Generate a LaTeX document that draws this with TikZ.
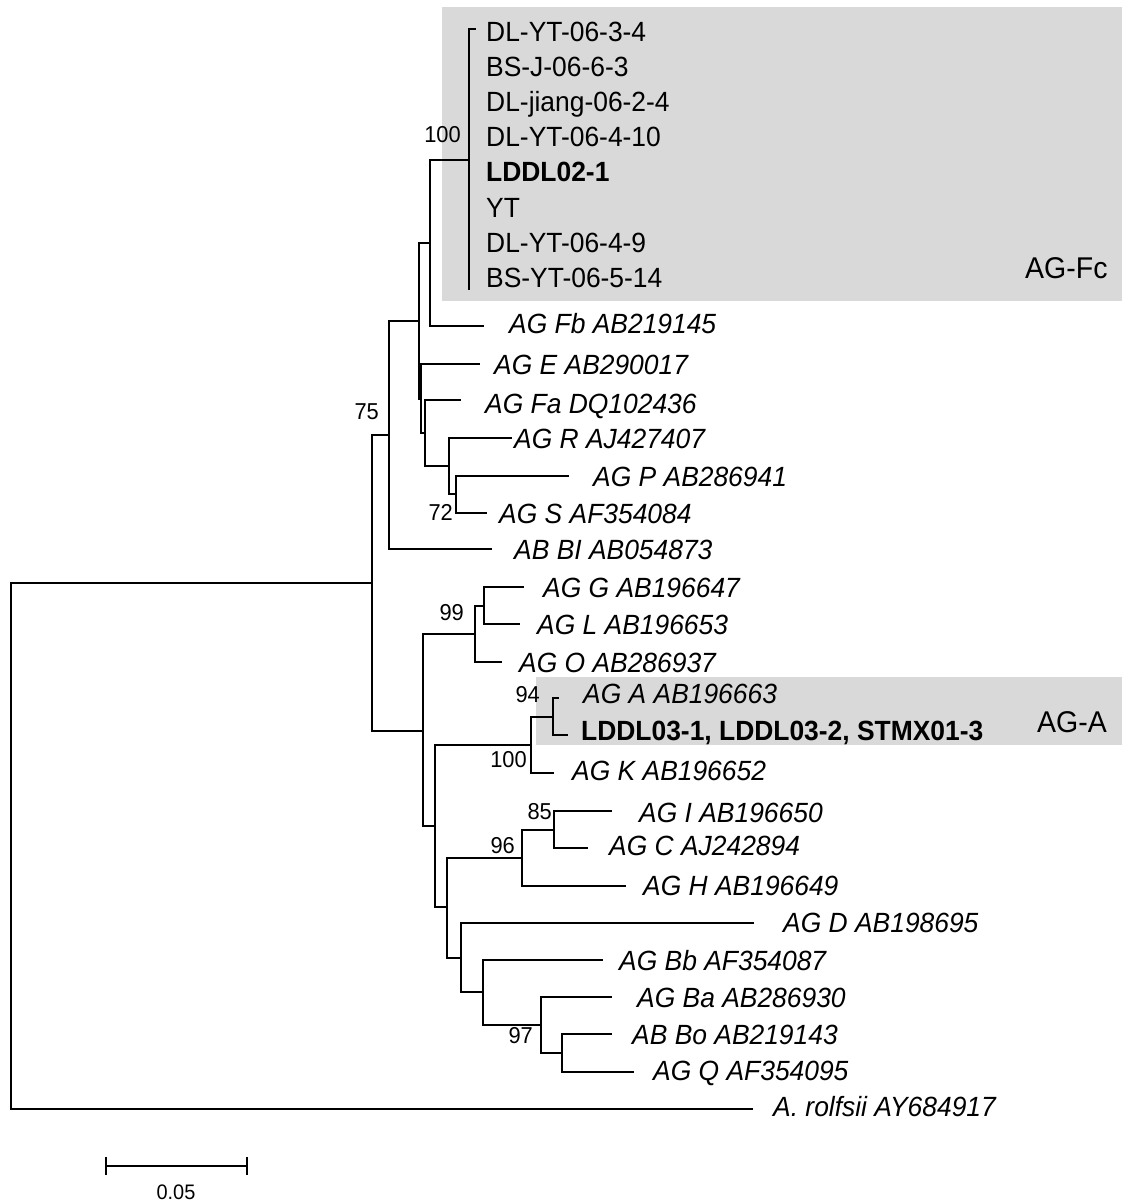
\documentclass[tikz,border=0pt]{standalone}
\usepackage{fontspec}
\setmainfont{Liberation Sans}[FakeStretch=0.95]
\definecolor{cladegray}{RGB}{217,217,217}
\tikzset{
  br/.style={line width=2pt, line join=miter},
  lab/.style={anchor=base west, inner sep=0pt, font=\fontsize{27.8}{30}\selectfont\itshape},
  labup/.style={anchor=base west, inner sep=0pt, font=\fontsize{27.8}{30}\selectfont},
  labbf/.style={anchor=base west, inner sep=0pt, font=\fontsize{27.8}{30}\selectfont\bfseries},
  sup/.style={anchor=east, inner sep=0pt, font=\fontsize{23}{26}\selectfont},
  cladelab/.style={anchor=base west, inner sep=0pt, font=\fontsize{30}{32}\selectfont},
  cladebox/.style={fill=cladegray, draw=none}
}
\begin{document}
\begin{tikzpicture}[x=1pt,y=-1pt]
\useasboundingbox (0,0) rectangle (1123,1202);
% clade boxes
\fill[cladebox] (442,7) rectangle (1122,301);
\fill[cladebox] (536,677) rectangle (1122,745);
% internal nodes
\coordinate (R0) at (11,846);
\coordinate (N1) at (372,583);
\coordinate (N2) at (389,435);
\coordinate (N3) at (419,321);
\coordinate (N4) at (430,243);
\coordinate (N6) at (469,160);
\coordinate (N5) at (421,399);
\coordinate (N7) at (425,433);
\coordinate (N8) at (449,466);
\coordinate (N9) at (456,494);
\coordinate (N10) at (423,731);
\coordinate (N11) at (475,634);
\coordinate (N13) at (484,606);
\coordinate (N12) at (435,826);
\coordinate (N14) at (531,745);
\coordinate (N16) at (553,717);
\coordinate (N15) at (447,907);
\coordinate (N17) at (522,858);
\coordinate (N19) at (554,830);
\coordinate (N18) at (461,958);
\coordinate (N20) at (483,992);
\coordinate (N21) at (541,1025);
\coordinate (N22) at (562,1053);
% tips
\coordinate (tRolf) at (753,1109);
\coordinate (tFc1) at (476,29);
\coordinate (tFc8) at (469,290);
\coordinate (tFb) at (484,326);
\coordinate (tE) at (480,364);
\coordinate (tFa) at (461,400);
\coordinate (tR) at (512,438);
\coordinate (tP) at (569,476);
\coordinate (tS) at (487,513);
\coordinate (tBI) at (492,549);
\coordinate (tG) at (524,587);
\coordinate (tL) at (520,624);
\coordinate (tO) at (502,662);
\coordinate (tA) at (559,698);
\coordinate (tLD3) at (568,735);
\coordinate (tK) at (554,773);
\coordinate (tI) at (612,811);
\coordinate (tC) at (588,848);
\coordinate (tH) at (626,886);
\coordinate (tD) at (754,923);
\coordinate (tBb) at (603,960);
\coordinate (tBa) at (612,997);
\coordinate (tBo) at (612,1034);
\coordinate (tQ) at (634,1072);
% branches
\draw[br] (R0) |- (N1);  \draw[br] (R0) |- (tRolf);
\draw[br] (N1) |- (N2);  \draw[br] (N1) |- (N10);
\draw[br] (N2) |- (N3);  \draw[br] (N2) |- (tBI);
\draw[br] (N3) |- (N4);  \draw[br] (N3) |- (N5);
\draw[br] (N4) |- (N6);  \draw[br] (N4) |- (tFb);
\draw[br] (N6) |- (tFc1); \draw[br] (N6) |- (tFc8);
\draw[br] (N5) |- (tE);  \draw[br] (N5) |- (N7);
\draw[br] (N7) |- (tFa); \draw[br] (N7) |- (N8);
\draw[br] (N8) |- (tR);  \draw[br] (N8) |- (N9);
\draw[br] (N9) |- (tP);  \draw[br] (N9) |- (tS);
\draw[br] (N10) |- (N11); \draw[br] (N10) |- (N12);
\draw[br] (N11) |- (N13); \draw[br] (N11) |- (tO);
\draw[br] (N13) |- (tG); \draw[br] (N13) |- (tL);
\draw[br] (N12) |- (N14); \draw[br] (N12) |- (N15);
\draw[br] (N14) |- (N16); \draw[br] (N14) |- (tK);
\draw[br] (N16) |- (tA); \draw[br] (N16) |- (tLD3);
\draw[br] (N15) |- (N17); \draw[br] (N15) |- (N18);
\draw[br] (N17) |- (N19); \draw[br] (N17) |- (tH);
\draw[br] (N19) |- (tI); \draw[br] (N19) |- (tC);
\draw[br] (N18) |- (tD); \draw[br] (N18) |- (N20);
\draw[br] (N20) |- (tBb); \draw[br] (N20) |- (N21);
\draw[br] (N21) |- (tBa); \draw[br] (N21) |- (N22);
\draw[br] (N22) |- (tBo); \draw[br] (N22) |- (tQ);
% AG-Fc clade labels
\node[labup] (l1) at (486,41) {DL-YT-06-3-4};
\node[labup] (l2) at (486,76) {BS-J-06-6-3};
\node[labup] (l3) at (486,111) {DL-jiang-06-2-4};
\node[labup] (l4) at (486,146) {DL-YT-06-4-10};
\node[labbf] (l5) at (486,181.5) {LDDL02-1};
\node[labup] (l6) at (486,217) {YT};
\node[labup] (l7) at (486,252) {DL-YT-06-4-9};
\node[labup] (l8) at (486,287) {BS-YT-06-5-14};
% other tip labels
\node[lab] (lFb) at (509,333) {AG Fb AB219145};
\node[lab] (lE) at (494,374) {AG E AB290017};
\node[lab] (lFa) at (485,413) {AG Fa DQ102436};
\node[lab] (lR) at (514,448) {AG R AJ427407};
\node[lab] (lP) at (593,486) {AG P AB286941};
\node[lab] (lS) at (499,523) {AG S AF354084};
\node[lab] (lBI) at (514,559) {AB BI AB054873};
\node[lab] (lG) at (543,597) {AG G AB196647};
\node[lab] (lL) at (537,634) {AG L AB196653};
\node[lab] (lO) at (519,672) {AG O AB286937};
\node[lab] (lA) at (583,703) {AG A AB196663};
\node[labbf] (lLD3) at (581,740) {LDDL03-1, LDDL03-2, STMX01-3};
\node[lab] (lK) at (572,780) {AG K AB196652};
\node[lab] (lI) at (639,822) {AG I AB196650};
\node[lab] (lC) at (609,855) {AG C AJ242894};
\node[lab] (lH) at (643,895) {AG H AB196649};
\node[lab] (lD) at (783,932) {AG D AB198695};
\node[lab] (lBb) at (619,970) {AG Bb AF354087};
\node[lab] (lBa) at (637,1007) {AG Ba AB286930};
\node[lab] (lBo) at (632,1044) {AB Bo AB219143};
\node[lab] (lQ) at (653,1080) {AG Q AF354095};
\node[lab] (lRolf) at (773,1116) {A. rolfsii AY684917};
% clade names
\node[cladelab] (cFc) at (1025,278) {AG-Fc};
\node[cladelab] (cA) at (1037,732) {AG-A};
% support values
\node[sup] (s100a) at (461,135) {100};
\node[sup] (s75) at (379,412) {75};
\node[sup] (s72) at (453,512) {72};
\node[sup] (s99) at (464,613) {99};
\node[sup] (s94) at (540,695) {94};
\node[sup] (s100b) at (527,760) {100};
\node[sup] (s85) at (552,811.5) {85};
\node[sup] (s96) at (515,846) {96};
\node[sup] (s97) at (533,1036) {97};
% scale bar
\coordinate (sbL) at (106,1166);
\coordinate (sbR) at (247,1166);
\draw[br, line width=1.8pt] (sbL) -- (sbR);
\draw[br, line width=1.8pt] ([yshift=-9pt]sbL) -- ([yshift=9pt]sbL);
\draw[br, line width=1.8pt] ([yshift=-9pt]sbR) -- ([yshift=9pt]sbR);
\node[inner sep=0pt, font=\fontsize{21}{24}\selectfont] (sbT) at (176,1192) {0.05};
\end{tikzpicture}
\end{document}
